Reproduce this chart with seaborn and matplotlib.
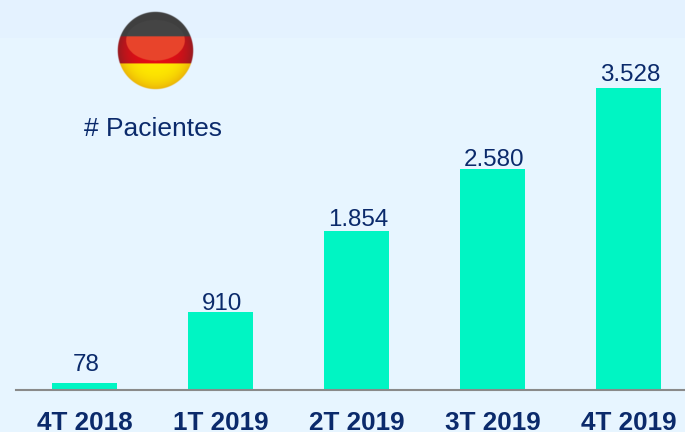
import numpy as np
import pandas as pd
import matplotlib
matplotlib.use("Agg")
import matplotlib.pyplot as plt
import seaborn as sns

quarters = ["4T 2018", "1T 2019", "2T 2019", "3T 2019", "4T 2019"]
patients = [78, 910, 1854, 2580, 3528]
value_labels = ["78", "910", "1.854", "2.580", "3.528"]

W, H = 685, 432
BG = "#E7F5FF"
BG_TOP = "#E4F2FF"
BAR = "#00F5C3"
NAVY = "#0B2A6B"

sns.set_theme(style="white")
plt.rcParams["font.family"] = ["Liberation Sans", "DejaVu Sans"]

fig = plt.figure(figsize=(W / 100, H / 100), dpi=100, facecolor=BG)
fig.patches.append(plt.Rectangle((0, 1 - 38 / H), 1, 38 / H, transform=fig.transFigure,
                                 facecolor=BG_TOP, edgecolor="none", zorder=-1))
ax = fig.add_axes([16 / W, (H - 389.5) / H, (W - 16) / W, 389.5 / H])
ax.patch.set_alpha(0)

df = pd.DataFrame({"quarter": quarters, "patients": patients})
sns.barplot(data=df, x="quarter", y="patients", color=BAR, saturation=1, width=0.476, ax=ax)
for b in ax.patches:
    b.set_edgecolor("none")
    b.set_linewidth(0)

ax.set_xlim(-0.503, 4.413)
ax.set_ylim(0, 389.5 / (301.5 / 3528))
ax.set_xlabel("")
ax.set_ylabel("")
ax.set_yticks([])
for s in ["top", "left", "right"]:
    ax.spines[s].set_visible(False)
ax.spines["bottom"].set_color("#8A8A8A")
ax.spines["bottom"].set_linewidth(1.5)
ax.tick_params(axis="x", length=0, pad=15.7)
for t in ax.get_xticklabels():
    t.set_fontsize(18.8)
    t.set_fontweight("bold")
    t.set_color(NAVY)

# The reference places each label at its own height above its bar (points)
label_gaps = (8.6, 1.5, 3.5, 2.2, 5.0)
for i, (v, lab) in enumerate(zip(patients, value_labels)):
    ax.annotate(lab, (i, v), xytext=(1.0, label_gaps[i]), textcoords="offset points",
                ha="center", va="baseline", fontsize=17.4, color=NAVY)

fig.text(153 / W, 1 - 128.5 / H, "# Pacientes", ha="center", va="center", fontsize=19, color=NAVY)

# Shaded round flag, drawn with a small margin so that the disc is never trimmed
Rx, Ry, m = 38, 39, 1.06
fa = fig.add_axes([(155.7 - Rx * m) / W, 1 - (51 + Ry * m) / H, 2 * Rx * m / W, 2 * Ry * m / H])
fa.axis("off")
n = 340
yy, xx = np.mgrid[-m:m:n * 1j, -m:m:n * 1j]
r = np.hypot(xx, yy)
top_band = yy < -0.36
mid_band = (yy >= -0.36) & (yy < 0.33)
low_band = yy >= 0.33

def band(mask, inner, outer, power):
    t = np.clip(r, 0, 1) ** power
    c = np.array(inner)[None, None, :] * (1 - t[..., None]) + np.array(outer)[None, None, :] * t[..., None]
    return np.where(mask[..., None], c, 0)

rgb = (band(top_band, (0.25, 0.25, 0.25), (0.25, 0.25, 0.25), 3)
       + band(mid_band, (0.90, 0.05, 0.08), (0.58, 0.11, 0.13), 3)
       + band(low_band, (1.00, 0.92, 0.00), (0.92, 0.70, 0.03), 4))
gloss = (np.hypot(xx / 0.77, (yy + 0.26) / 0.52) < 1) & ~low_band
gloss_col = np.where(top_band[..., None], np.array([0.27, 0.27, 0.27]), np.array([0.91, 0.27, 0.17]))
rgb = np.where(gloss[..., None], gloss_col, rgb)
img = np.dstack([np.clip(rgb, 0, 1), np.clip((1 - r) * 50, 0, 1)])
fa.imshow(img, extent=(-m, m, m, -m), aspect="auto", interpolation="bilinear")

fig.savefig("out.png", dpi=100, facecolor=BG)
